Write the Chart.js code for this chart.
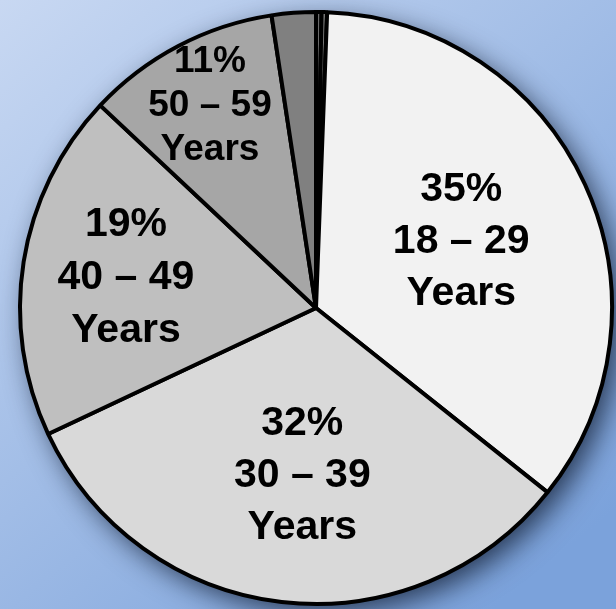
<!DOCTYPE html>
<html>
<head>
<meta charset="utf-8">
<script src="https://cdn.jsdelivr.net/npm/chart.js@4"></script>
<style>
  html, body { margin: 0; padding: 0; }
  #wrap { width: 616px; height: 609px; position: relative; }
</style>
</head>
<body>
<div id="wrap"><canvas id="age-chart"></canvas></div>
<script>
// age groups, clockwise from 12 o'clock
const categories = ['70 – 79', '80 +', '18 – 29', '30 – 39', '40 – 49', '50 – 59', '60 – 69'];
const shares = [0.3, 0.3, 35.1, 32.3, 19.0, 10.6, 2.4];
const pctLabels = ['', '', '35%', '32%', '19%', '11%', ''];
const sliceColors = ['#6b6b6b', '#767676', '#f2f2f2', '#d9d9d9', '#bfbfbf', '#a6a6a6', '#808080'];

// label placement: fraction of radius, angle nudge (deg), font size, line height
const labelStyle = {
    2: { r: 0.54, a: 0, size: 41, lh: 52 },
    3: { r: 0.57, a: -2, size: 41, lh: 52 },
    4: { r: 0.65, a: 0, size: 41, lh: 53 },
    5: { r: 0.77, a: 0, size: 37, lh: 44 },
};

const backdrop = {
    id: 'backdrop',
    beforeDraw: function (chart) {
        const ctx = chart.ctx;
        const g = ctx.createLinearGradient(0, 0, chart.width * 0.8, chart.height);
        g.addColorStop(0, '#c8d8f2');
        g.addColorStop(1, '#7ba2db');
        ctx.save();
        ctx.fillStyle = g;
        ctx.fillRect(0, 0, chart.width, chart.height);
        ctx.restore();
    },
    beforeDatasetsDraw: function (chart) {
        const arc = chart.getDatasetMeta(0).data[0];
        if (!arc) return;
        const ctx = chart.ctx;
        ctx.save();
        ctx.shadowColor = 'rgba(10, 20, 40, 0.75)';
        ctx.shadowBlur = 28;
        ctx.shadowOffsetX = 8;
        ctx.shadowOffsetY = 9;
        ctx.fillStyle = '#000';
        ctx.beginPath();
        ctx.arc(arc.x, arc.y, arc.outerRadius, 0, Math.PI * 2);
        ctx.fill();
        ctx.restore();
    },
};

const sliceLabels = {
    id: 'sliceLabels',
    afterDatasetsDraw: function (chart) {
        const ctx = chart.ctx;
        chart.getDatasetMeta(0).data.forEach(function (arc, i) {
            const st = labelStyle[i];
            if (!st) return;
            const mid = (arc.startAngle + arc.endAngle) / 2 + st.a * Math.PI / 180;
            const cx = arc.x + Math.cos(mid) * arc.outerRadius * st.r;
            const cy = arc.y + Math.sin(mid) * arc.outerRadius * st.r;
            const lines = [pctLabels[i], categories[i], 'Years'];
            ctx.save();
            ctx.fillStyle = '#000';
            ctx.font = 'bold ' + st.size + 'px "Liberation Sans", Arial, sans-serif';
            ctx.textAlign = 'center';
            ctx.textBaseline = 'middle';
            lines.forEach(function (t, k) {
                ctx.fillText(t, cx, cy + (k - 1) * st.lh);
            });
            ctx.restore();
        });
    },
};

new Chart(document.getElementById('age-chart'), {
    type: 'pie',
    data: {
        labels: categories,
        datasets: [{
            data: shares,
            backgroundColor: sliceColors,
            borderColor: '#000',
            borderWidth: 4,
        }],
    },
    options: {
        responsive: true,
        maintainAspectRatio: false,
        animation: false,
        rotation: 0,
        layout: {
            padding: { left: 18, right: 2, top: 10, bottom: 3 },
        },
        plugins: {
            legend: { display: false },
            tooltip: { enabled: false },
        },
    },
    plugins: [backdrop, sliceLabels],
});
</script>
</body>
</html>
